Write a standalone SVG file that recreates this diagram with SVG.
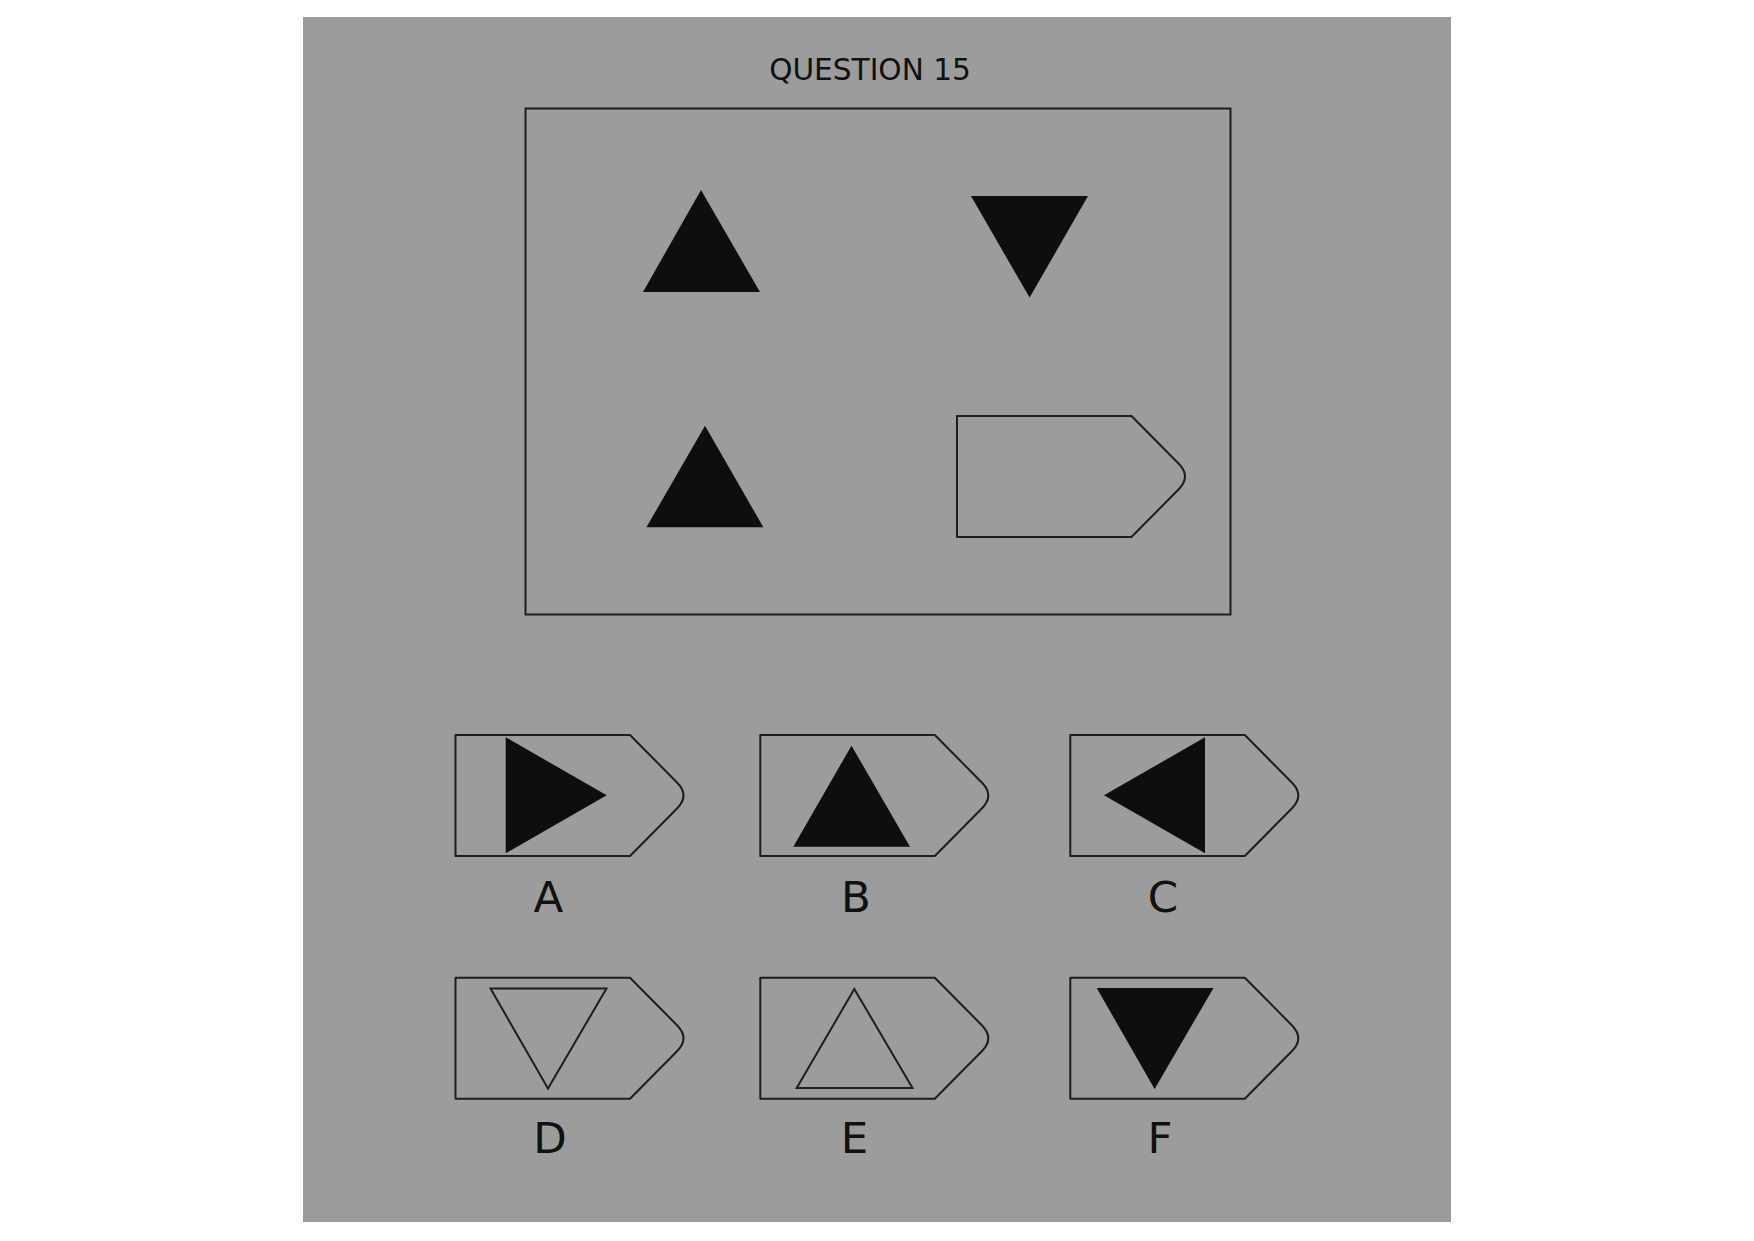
<svg xmlns="http://www.w3.org/2000/svg" xmlns:xlink="http://www.w3.org/1999/xlink" width="1754" height="1241" viewBox="0 0 1754 1241">
<style>
.bg{fill:#9c9c9c}
.frame{fill:none;stroke:#1e1e1e;stroke-width:2}
.tag{fill:none;stroke:#1e1e1e;stroke-width:2;stroke-linejoin:round}
.solid{fill:#0e0e0e}
.hollow{fill:none;stroke:#1e1e1e;stroke-width:2}
.title{font-family:"DejaVu Sans",Verdana,sans-serif;font-size:29.6px;fill:#111;text-anchor:middle}
.lbl{font-family:"DejaVu Sans",Verdana,sans-serif;font-size:43.5px;fill:#111;text-anchor:middle}
</style>
<defs>
<path id="tag" class="tag" d="M0,0 H174.5 L222,48 Q234,60.5 222,73 L174.5,121 H0 Z"/>
</defs>
<rect x="0" y="0" width="1754" height="1241" fill="#ffffff"/>
<rect class="bg" x="303" y="17" width="1148" height="1205"/>
<text class="title" x="870" y="80">QUESTION 15</text>
<g id="question">
<rect class="frame" x="525.5" y="108.5" width="705" height="506"/>
<polygon class="solid" points="701,190 760,292 643,292"/>
<polygon class="solid" points="971,196 1088,196 1029.6,297.6"/>
<polygon class="solid" points="705,425.7 763.4,527.3 646.4,527.3"/>
<use xlink:href="#tag" href="#tag" transform="translate(957,416)"/>
</g>
<g id="optA">
<use xlink:href="#tag" href="#tag" transform="translate(455.5,735)"/>
<polygon class="solid" points="505.7,737.3 606.7,795.3 505.7,853.3"/>
<text class="lbl" x="548.5" y="911.7">A</text>
</g>
<g id="optB">
<use xlink:href="#tag" href="#tag" transform="translate(760.3,735)"/>
<polygon class="solid" points="851.5,745.7 910,846.7 793.3,846.7"/>
<text class="lbl" x="856" y="911.7">B</text>
</g>
<g id="optC">
<use xlink:href="#tag" href="#tag" transform="translate(1070.3,735)"/>
<polygon class="solid" points="1205,737.3 1205,853.3 1104,795.3"/>
<text class="lbl" x="1163" y="911.7">C</text>
</g>
<g id="optD">
<use xlink:href="#tag" href="#tag" transform="translate(455.5,977.7)"/>
<polygon class="hollow" points="490.5,988.5 606.5,988.5 548,1088.5"/>
<text class="lbl" x="550" y="1152.5">D</text>
</g>
<g id="optE">
<use xlink:href="#tag" href="#tag" transform="translate(760.3,977.7)"/>
<polygon class="hollow" points="854.3,989 912.5,1088 796.7,1088"/>
<text class="lbl" x="854.5" y="1152.5">E</text>
</g>
<g id="optF">
<use xlink:href="#tag" href="#tag" transform="translate(1070.3,977.7)"/>
<polygon class="solid" points="1096.7,988 1213.5,988 1154.6,1089"/>
<text class="lbl" x="1160" y="1152.5">F</text>
</g>
</svg>
